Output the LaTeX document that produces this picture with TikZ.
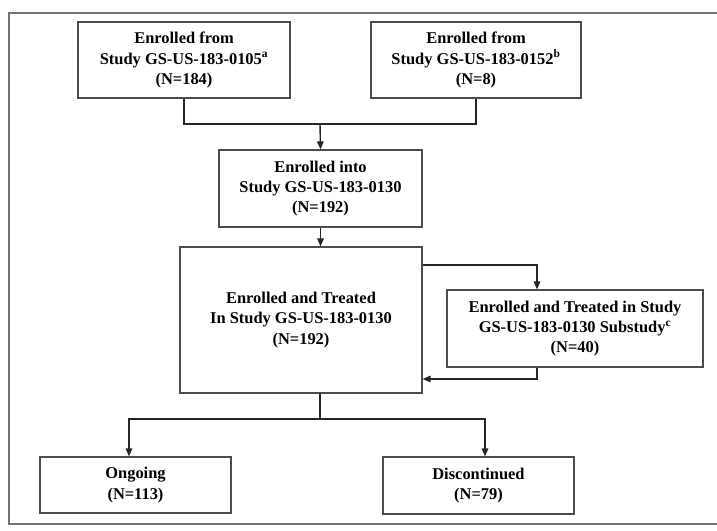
\documentclass[tikz,border=0pt]{standalone}
\usepackage{fontspec}
\setmainfont{Liberation Serif}
\usetikzlibrary{positioning, arrows.meta}

\begin{document}
\begin{tikzpicture}[
    x=1bp, y=-1bp,
    box/.style={draw=black!70, line width=1.1bp, inner sep=0pt, align=center,
        font=\fontsize{16.5}{20.5}\selectfont\bfseries},
    flow/.style={draw=black!85, line width=1.4bp},
    arrow/.style={flow, -{Triangle[length=8bp, width=6.5bp]}}]

\useasboundingbox (0,0) rectangle (717,531);

% Outer frame (right side runs off the page)
\draw[black!55, line width=2bp] (722,13) -- (9,13) -- (9,524) -- (722,524);

% Source studies
\node[box, minimum width=212bp, minimum height=76bp] (from0105) at (184,60)
    {Enrolled from\\Study GS-US-183-0105\textsuperscript{a}\\(N=184)};
\node[box, minimum width=210bp, minimum height=76bp] (from0152) at (476,60)
    {Enrolled from\\Study GS-US-183-0152\textsuperscript{b}\\(N=8)};

% Enrolment and treatment
\node[box, minimum width=203bp, minimum height=77bp] (into) at (320.5,188.5)
    {Enrolled into\\Study GS-US-183-0130\\(N=192)};
\node[box, minimum width=242bp, minimum height=146bp] (treated) at (301,320)
    {Enrolled and Treated\\In Study GS-US-183-0130\\(N=192)};
\node[box, minimum width=256bp, minimum height=77bp] (substudy) at (575,328.5)
    {Enrolled and Treated in Study\\GS-US-183-0130 Substudy\textsuperscript{c}\\(N=40)};

% Outcomes
\node[box, minimum width=191bp, minimum height=56bp] (ongoing) at (135.5,485)
    {Ongoing\\(N=113)};
\node[box, minimum width=191bp, minimum height=57bp] (disc) at (478.5,485.5)
    {Discontinued\\(N=79)};

% Connectors
\coordinate (merge) at (320,124);
\coordinate (sideout) at (537,265);
\coordinate (back) at (537,379);
\coordinate (split) at (320,419);
\coordinate (leftdrop) at (129,419);
\coordinate (rightdrop) at (485,419);

\draw[flow] (from0105.south) |- (merge) -| (from0152.south);
\draw[arrow] (merge) -- (into.north);
\draw[arrow] (into.south) -- (into.south |- treated.north);
\draw[arrow] (treated.east |- sideout) -- (sideout) -- (sideout |- substudy.north);
\draw[arrow] (back |- substudy.south) -- (back) -- (treated.east |- back);
\draw[flow] (split |- treated.south) -- (split);
\draw[arrow] (split) -- (leftdrop) -- (leftdrop |- ongoing.north);
\draw[arrow] (split) -- (rightdrop) -- (rightdrop |- disc.north);

\end{tikzpicture}
\end{document}
